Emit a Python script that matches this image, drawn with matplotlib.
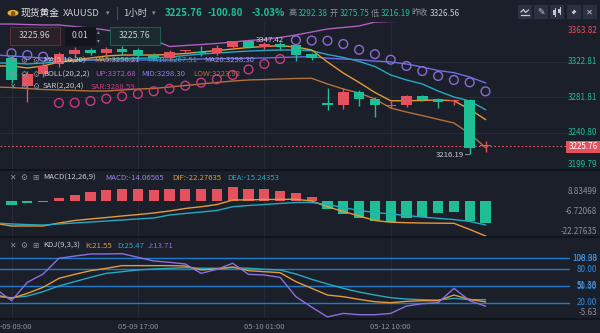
import matplotlib
matplotlib.use("Agg")
import matplotlib.pyplot as plt
import matplotlib.transforms as mtrans
from matplotlib.patches import Rectangle, Circle, FancyArrowPatch

plt.rcParams['font.family'] = ['Noto Sans CJK SC', 'DejaVu Sans']

# ---------------- data ----------------
tick_pos = [0, 8, 16, 24]
tick_text = ['05-09 09:00', '05-09 17:00', '05-10 01:00', '05-12 10:00']

opens = [3327.0, 3294.8, 3308.0, 3320.1, 3332.0, 3336.0, 3333.0, 3337.0, 3336.2, 3330.0,
         3327.0, 3334.8, 3333.9, 3332.7, 3339.7, 3346.0, 3339.7, 3343.1, 3342.0, 3331.6,
         3275.75, 3272.9, 3288.2, 3279.8, 3271.5, 3272.9, 3283.6, 3279.8, 3277.2, 3278.7, 3225.5]
highs = [3330.0, 3312.0, 3322.0, 3334.0, 3340.0, 3339.0, 3340.0, 3341.0, 3339.0, 3333.0,
         3336.0, 3336.5, 3340.8, 3342.0, 3347.0, 3347.42, 3345.0, 3345.0, 3343.0, 3333.0,
         3292.38, 3292.0, 3290.0, 3282.5, 3278.7, 3284.4, 3284.0, 3281.0, 3279.8, 3279.5, 3231.8]
lows = [3298.0, 3276.0, 3305.0, 3317.0, 3328.0, 3330.0, 3330.0, 3331.0, 3328.0, 3325.0,
        3325.0, 3333.5, 3329.3, 3330.4, 3337.0, 3338.0, 3337.0, 3336.0, 3324.0, 3325.0,
        3267.0, 3268.0, 3271.7, 3259.4, 3269.4, 3270.6, 3277.0, 3269.4, 3272.9, 3216.19, 3219.1]
closes = [3301.7, 3308.0, 3318.0, 3332.0, 3336.0, 3333.0, 3337.0, 3334.0, 3330.4, 3327.0,
          3333.9, 3335.1, 3332.7, 3338.5, 3346.6, 3339.7, 3343.1, 3340.0, 3330.4, 3326.56,
          3272.9, 3288.2, 3279.8, 3272.9, 3272.0, 3283.3, 3278.7, 3276.7, 3277.8, 3223.1, 3225.76]

# indicator lines start one bar before the first visible candle
ma5 = [3317.8, 3317.8, 3315.5, 3317.8, 3322.4, 3324.7, 3327.0, 3329.3, 3330.4, 3330.4, 3330.4,
       3331.0, 3332.2, 3333.9, 3335.6, 3337.3, 3339.1, 3340.2, 3341.1, 3339.7, 3336.2,
       3322.4, 3309.7, 3298.8, 3287.3, 3277.8, 3277.8, 3278.1, 3278.7, 3277.8, 3267.9, 3256.21]
ma10 = [3321.2, 3321.2, 3320.1, 3321.2, 3322.4, 3323.5, 3324.7, 3325.8, 3326.4, 3326.7, 3327.0,
        3328.1, 3329.9, 3331.6, 3332.7, 3333.9, 3335.0, 3335.6, 3336.2, 3336.2, 3335.4,
        3331.0, 3327.6, 3323.0, 3317.2, 3307.4, 3301.7, 3297.1, 3289.0, 3282.1, 3277.5, 3267.51]
ma20 = [3330.4, 3329.3, 3328.1, 3327.0, 3325.8, 3325.3, 3324.7, 3324.7, 3324.7, 3324.7, 3324.7,
        3324.7, 3325.3, 3325.8, 3326.1, 3326.4, 3326.7, 3327.0, 3327.6, 3328.1, 3328.5,
        3326.7, 3325.8, 3325.0, 3323.5, 3322.4, 3320.1, 3316.6, 3312.6, 3310.1, 3305.1, 3298.30]
boll_up = [3366.1, 3366.1, 3365.5, 3365.0, 3365.0, 3363.2, 3361.5, 3359.2, 3355.8, 3352.3, 3347.7,
           3340.2, 3341.4, 3342.5, 3343.7, 3345.4, 3347.1, 3348.3, 3350.6, 3353.5, 3356.9,
           3360.4, 3362.1, 3363.8, 3368.4, 3369.0, 3369.5, 3370.0, 3370.5, 3371.0, 3378.0, 3372.68]
boll_low = [3293.6, 3293.0, 3291.9, 3290.7, 3290.2, 3289.6, 3289.0, 3289.0, 3290.2, 3291.3, 3291.9,
            3293.6, 3295.3, 3297.1, 3298.8, 3300.5, 3301.7, 3302.2, 3302.8, 3303.4, 3303.6,
            3297.1, 3291.3, 3286.7, 3279.8, 3269.4, 3264.8, 3260.7, 3256.4, 3252.2, 3240.0, 3223.92]
sar = [3332.4, 3330.4, 3328.5, 3275.2, 3275.5, 3277.5, 3280.1, 3282.9, 3285.6, 3288.7,
       3291.6, 3295.1, 3298.6, 3302.5, 3307.4, 3313.8, 3320.1, 3325.8, 3347.42, 3347.1,
       3346.9, 3343.1, 3336.5, 3331.4, 3325.0, 3317.8, 3312.0, 3306.3, 3301.7, 3299.0, 3288.59]

macd_hist = [-2.77, -1.49, -0.64, 2.13, 3.62, 5.75, 7.03, 7.45, 7.45, 7.03, 7.88, 7.88, 7.45, 7.88,
             8.83499, 7.88, 7.45, 6.39, 4.9, 2.77, -5.3, -8.5, -10.7, -12.8, -13.4, -11.1, -10.0,
             -7.9, -6.8, -12.8, -14.06565]
dif = [-14.2, -15.9, -15.9, -15.9, -14.0, -12.4, -11.4, -10.5, -9.5, -8.6, -7.6, -6.3, -4.7,
       -3.6, -2.2, 0.7, 0.8, 1.0, 1.1, 1.15, 0.06, -3.6, -6.6, -9.5, -12.4, -13.5, -13.8, -14.0,
       -14.1, -14.2, -18.1, -22.27635]
dea = [-14.0, -14.6, -15.0, -15.3, -14.6, -14.0, -13.4, -12.7, -12.1, -11.4, -10.8, -8.9, -7.9,
       -7.0, -6.0, -3.6, -2.8, -2.2, -1.5, -0.9, -0.9, -2.2, -4.1, -6.0, -7.3, -8.2, -9.2, -10.2,
       -11.0, -11.8, -13.0, -15.24353]

kdj_k = [34.0, 27.8, 36.8, 47.7, 63.9, 71.1, 77.7, 82.0, 86.8, 86.8, 86.8, 86.8, 86.2, 79.0, 80.8,
         84.4, 77.7, 75.9, 74.1, 57.9, 45.9, 33.8, 30.8, 26.0, 21.8, 20.0, 22.4, 23.6, 23.6, 33.8,
         26.0, 21.55]
kdj_d = [31.0, 29.0, 32.0, 39.9, 50.1, 57.9, 65.7, 72.9, 75.9, 79.0, 80.8, 82.0, 83.2, 82.0, 82.0,
         83.2, 82.0, 80.2, 79.0, 71.7, 62.1, 53.7, 45.9, 39.2, 33.8, 29.0, 26.6, 25.4, 24.8, 27.8,
         25.4, 25.47]
kdj_j = [45.0, 23.6, 56.7, 71.7, 100.0, 104.0, 107.8, 107.8, 108.38, 101.8, 95.2, 92.8, 89.8,
         72.9, 80.2, 91.0, 71.1, 69.9, 65.7, 30.8, 12.0, -5.63, 0.75, -1.6, -1.6, 0.75, 14.0, 18.2,
         20.0, 45.9, 23.6, 13.71]

price_ticks = [3363.82, 3322.81, 3281.81, 3240.80, 3199.79]
macd_ticks = ['8.83499', '-6.72068', '-22.27635']
kdj_levels = [100, 80, 50, 20]
kdj_ticks = ['108.38', '51.38', '-5.63']
last_price = 3225.76

# ---------------- style ----------------
W, H = 600, 333
BG = '#1b1f2a'
GRID = '#262b37'
SEP = '#0f1218'
RED = '#e5525e'
GREEN = '#1fbf96'
TXT = '#c9ccd3'
DIM = '#8b909b'
C_MA5 = '#e39b3a'
C_MA10 = '#27a9c2'
C_MID = '#6b6fe6'
C_UP = '#b05ec0'
C_LOW = '#b5713a'
C_SAR_UP = '#c83c7e'
C_SAR_DN = '#8a6bd2'
C_J = '#8b6ee0'
C_LVL = '#1f7bcc'
ICON = '#c4c8d0'

fig = plt.figure(figsize=(W / 100, H / 100), dpi=100, facecolor=BG)


def box(x0, y0, x1, y1):
    return [x0 / W, 1 - y1 / H, (x1 - x0) / W, (y1 - y0) / H]


def fx(x):
    return x / W


def fy(y):
    return 1 - y / H


def ftext(x, y, s, color, size, ha='left', va='center', **kw):
    kw.setdefault('zorder', 6)
    return fig.text(fx(x), fy(y), s, color=color, fontsize=size, ha=ha, va=va, **kw)


def frect(x0, y0, x1, y1, fc, ec='none', lw=0.8, z=5):
    fig.add_artist(Rectangle((fx(x0), fy(y1)), (x1 - x0) / W, (y1 - y0) / H,
                             transform=fig.transFigure, facecolor=fc, edgecolor=ec,
                             linewidth=lw, zorder=z))


def fline(xs, ys, color, lw=0.8, z=6):
    fig.add_artist(plt.Line2D([fx(v) for v in xs], [fy(v) for v in ys],
                              transform=fig.transFigure, color=color, lw=lw, zorder=z))


AXR = 570
X0, DX = 11.5, 15.8
xlim = ((0 - X0) / DX, (AXR - X0) / DX)

ax = fig.add_axes(box(0, 22, AXR, 170))
axm = fig.add_axes(box(0, 170, AXR, 237))
axj = fig.add_axes(box(0, 237, AXR, 319))
for a in (ax, axm, axj):
    a.set_facecolor(BG)
    a.set_xlim(*xlim)
    for s in a.spines.values():
        s.set_visible(False)
    a.set_xticks([])
    a.set_yticks([])
    for t in tick_pos:
        a.axvline(t, color=GRID, lw=0.8, zorder=0)

ax.set_ylim(3198.07, 3368.42)
axm.set_ylim(-22.94, 19.87)
axj.set_ylim(-9.37, 138.4)

idx = list(range(len(opens)))
lidx = list(range(-1, len(opens)))

# ---- main panel ----
for p in price_ticks[1:-1]:
    ax.axhline(p, color=GRID, lw=0.8, zorder=0)

ax.plot(lidx, boll_up, color=C_UP, lw=1.0, zorder=2)
ax.plot(lidx, boll_low, color=C_LOW, lw=1.0, zorder=2)
ax.plot(lidx, ma10, color=C_MA10, lw=1.0, zorder=2)
ax.plot(lidx, ma20, color=C_MID, lw=1.0, zorder=2)
ax.plot(lidx, ma5, color=C_MA5, lw=1.0, zorder=2)

for i in idx:
    o, h, l, c = opens[i], highs[i], lows[i], closes[i]
    col = RED if c >= o else GREEN
    ax.plot([i, i], [l, h], color=col, lw=1.0, zorder=3, solid_capstyle='butt')
    ax.add_patch(Rectangle((i - 0.34, min(o, c)), 0.68, max(abs(c - o), 1.2),
                           facecolor=col, edgecolor='none', zorder=4))

sar_cols = [C_SAR_UP if s < l else C_SAR_DN for s, l in zip(sar, lows)]
ax.scatter(idx, sar, s=40, facecolors='none', edgecolors=sar_cols, linewidths=1.0, zorder=5)

ax.axhline(last_price, color=RED, lw=0.8, ls=(0, (1.5, 2.0)), zorder=1)

hi_i = highs.index(max(highs))
lo_i = lows.index(min(lows))
ax.text(hi_i + 0.45, max(highs), f'{max(highs):.2f}', color=TXT, fontsize=5.6,
        ha='left', va='center', zorder=6)
ax.plot([lo_i - 0.3, lo_i - 0.05], [min(lows), min(lows)], color=DIM, lw=0.7, zorder=6)
ax.text(lo_i - 0.35, min(lows) - 1.0, f'{min(lows):.2f}', color=TXT, fontsize=5.6,
        ha='right', va='center', zorder=6)

tr_main = mtrans.blended_transform_factory(fig.transFigure, ax.transData)
for k, p in enumerate(price_ticks):
    va = 'top' if k == 0 else ('bottom' if k == len(price_ticks) - 1 else 'center')
    col = RED if k == 0 else GREEN
    ax.text(597 / W, p, f'{p:.2f}', transform=tr_main, color=col, fontsize=5.8,
            ha='right', va=va, clip_on=False)

# ---- MACD panel ----
axm.bar(idx, macd_hist, width=0.64, color=[RED if v >= 0 else GREEN for v in macd_hist],
        zorder=2)
axm.plot(lidx, dif, color=C_MA5, lw=1.0, zorder=3)
axm.plot(lidx, dea, color=C_MA10, lw=1.0, zorder=3)
tr_m = mtrans.blended_transform_factory(fig.transFigure, axm.transData)
for k, s in enumerate(macd_ticks):
    va = 'top' if k == 0 else ('bottom' if k == len(macd_ticks) - 1 else 'center')
    axm.text(597 / W, float(s), s, transform=tr_m, color=DIM, fontsize=5.8,
             ha='right', va=va, clip_on=False)

# ---- KDJ panel ----
for lv in kdj_levels:
    axj.axhline(lv, color=C_LVL, lw=1.0, zorder=1)
axj.plot(lidx, kdj_d, color=C_MA10, lw=1.0, zorder=3)
axj.plot(lidx, kdj_k, color=C_MA5, lw=1.0, zorder=3)
axj.plot(lidx, kdj_j, color=C_J, lw=1.0, zorder=3)
tr_j = mtrans.blended_transform_factory(fig.transFigure, axj.transData)
for k, s in enumerate(kdj_ticks):
    va = 'top' if k == 0 else ('bottom' if k == len(kdj_ticks) - 1 else 'center')
    axj.text(597 / W, float(s), s, transform=tr_j, color=DIM, fontsize=5.8,
             ha='right', va=va, clip_on=False)
for lv in kdj_levels:
    axj.text(597 / W, lv, f'{lv:.2f}', transform=tr_j, color='#2d8ce6', fontsize=5.8,
             ha='right', va='center', clip_on=False)

tr_t = mtrans.blended_transform_factory(axj.transData, fig.transFigure)
for t, s in zip(tick_pos, tick_text):
    axj.text(t, fy(327), s, transform=tr_t, color=DIM, fontsize=5.5,
             ha='center', va='center', clip_on=False)

# panel separators
for yy in (170, 237, 319):
    fline([0, W], [yy, yy], SEP, lw=1.2, z=4)

# last price tag
frect(566, 141, 600, 153, RED)
ftext(583, 147, f'{last_price:.2f}', 'white', 5.8, ha='center')

# ---- header ----
fig.add_artist(Circle((fx(13), fy(13)), 5.5 / W, transform=fig.transFigure,
                      facecolor='#e7b03a', edgecolor='none', zorder=5))
ftext(13, 13.3, '☗', '#8a5a10', 4.5, ha='center')
ftext(21, 13, '现货黄金', '#e8eaee', 7.0)
ftext(63, 13, 'XAUUSD', TXT, 6.8)
ftext(106, 13, '▾', DIM, 5.0)
fline([117, 117], [7, 19], '#444a57', lw=0.8, z=5)
ftext(123, 13, '1小时', TXT, 6.8)
ftext(152, 13, '▾', DIM, 5.0)
ftext(165, 13, '3225.76', GREEN, 7.0, fontweight='bold')
ftext(208, 13, '-100.80', GREEN, 7.0, fontweight='bold')
ftext(251, 13, '-3.03%', GREEN, 7.0, fontweight='bold')
ftext(289, 13, '高', DIM, 5.9)
ftext(298, 13, '3292.38', GREEN, 5.9)
ftext(330, 13, '开', DIM, 5.9)
ftext(340, 13, '3275.75', GREEN, 5.9)
ftext(371, 13, '低', DIM, 5.9)
ftext(381, 13, '3216.19', GREEN, 5.9)
ftext(411, 13, '昨收', DIM, 5.9)
ftext(430, 13, '3326.56', TXT, 5.9)

# toolbar buttons
bx = [518, 534, 550, 567, 583]
for x0 in bx:
    frect(x0, 5, x0 + 13.5, 19, '#2b3140')
# indicator button: small wave over a base line
fline([521, 523.5, 525.5, 528.5], [12, 9.5, 12.5, 10], ICON, lw=0.9)
fline([521, 529], [15, 15], ICON, lw=0.9)
# drawing tool button
ftext(541, 12, '✎', ICON, 6.5, ha='center')
# candle button: two small candles
for cx, b0, b1, w0, w1 in ((554.5, 9.5, 14.5, 8, 16), (559.5, 8.5, 12.5, 7, 14)):
    fline([cx, cx], [w0, w1], ICON, lw=0.7)
    frect(cx - 1.4, b0, cx + 1.4, b1, ICON, z=6)
# expand button
fig.add_artist(FancyArrowPatch((fx(570.5), fy(15.5)), (fx(577.5), fy(8.5)),
                               transform=fig.transFigure, arrowstyle='<|-|>',
                               mutation_scale=4, color=ICON, lw=0.8, zorder=6))
# close button
ftext(589.75, 12, '✕', ICON, 6.0, ha='center')

# order boxes
frect(10, 27, 60, 45, '#2a2027', '#5c2f38')
ftext(35, 36, '3225.96', TXT, 6.3, ha='center')
frect(65, 27, 95, 45, '#12151c', '#12151c')
ftext(80, 36, '0.01', TXT, 6.3, ha='center')
ftext(98, 32, '▴', DIM, 4.0, ha='center')
ftext(98, 41, '▾', DIM, 4.0, ha='center')
frect(110, 27, 160, 45, '#1a2c2d', '#1d5a4f')
ftext(135, 36, '3225.76', TXT, 6.3, ha='center')


# ---- legends ----
def legend_row(y, name, items, icon3='⚙'):
    ftext(12, y, '✕', DIM, 5.6, ha='center')
    ftext(24, y, '⚙', DIM, 5.6, ha='center')
    ftext(36, y, icon3, DIM, 5.6, ha='center')
    ftext(43, y, name, TXT, 5.6)
    for x, s, c in items:
        ftext(x, y, s, c, 5.6)


legend_row(60.5, 'MA(5,10,20)', [(94, 'MA5:3256.21', C_MA5), (147, 'MA10:3267.51', C_MA10),
                                 (204, 'MA20:3298.30', '#a49ae4')])
legend_row(74.5, 'BOLL(20,2,2)', [(95, 'UP:3372.68', C_UP), (141, 'MID:3298.30', '#7d83f0'),
                                  (193, 'LOW:3223.92', C_LOW)])
legend_row(87, 'SAR(2,20,4)', [(91, 'SAR:3288.59', C_SAR_UP)])
legend_row(177.5, 'MACD(12,26,9)', [(105, 'MACD:-14.06565', '#9a80e6'),
                                   (172, 'DIF:-22.27635', C_MA5),
                                   (227, 'DEA:-15.24353', C_MA10)], icon3='⊞')
legend_row(245.5, 'KDJ(9,3,3)', [(85, 'K:21.55', C_MA5), (117, 'D:25.47', C_MA10),
                                 (148, 'J:13.71', C_J)], icon3='⊞')

fig.savefig('out.png', dpi=100, facecolor=BG)
